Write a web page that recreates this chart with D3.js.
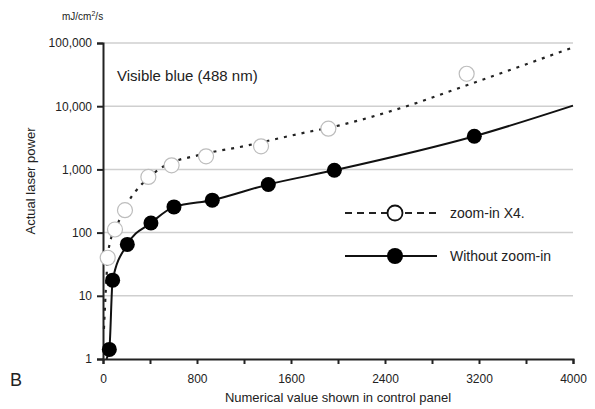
<!DOCTYPE html>
<html>
<head>
<meta charset="utf-8">
<script src="https://cdn.jsdelivr.net/npm/d3@7"></script>
<style>
  body { margin: 0; background: #fff; }
  text { font-family: Arial, "Liberation Sans", sans-serif; fill: #222; }
</style>
</head>
<body>
<script>
// data
var zoomX = [40, 102, 187, 386, 584, 877, 1345, 1918, 3095];
var zoomY = [40, 112, 226, 760, 1160, 1610, 2320, 4410, 32600];
var plainX = [54, 82, 207, 408, 604, 930, 1407, 1969, 3160];
var plainY = [1.42, 17.7, 65, 142, 255, 326, 578, 967, 3340];

// fitted curves drawn under the markers
var zoomLineX = [8, 51, 128, 213, 329, 499, 826, 1194, 1676, 2017, 2584, 3095, 4000];
var zoomLineY = [3, 59, 142, 302, 580, 1070, 1700, 2320, 3680, 5000, 10000, 21400, 85000];
var plainLineX = [30, 54, 82, 207, 408, 604, 930, 1407, 1969, 3160, 4000];
var plainLineY = [1, 1.42, 17.7, 65, 142, 255, 326, 578, 967, 3340, 10200];

var xTicks = [0, 400, 800, 1200, 1600, 2000, 2400, 2800, 3200, 3600, 4000];
var xLabels = [0, 800, 1600, 2400, 3200, 4000];
var yTicks = [1, 10, 100, 1000, 10000, 100000];

var width = 595, height = 409;

var svg = d3.select("body").append("svg")
  .attr("width", width)
  .attr("height", height);

var x = d3.scaleLinear().domain([0, 4000]).range([103, 573]);
var y = d3.scaleLog().domain([1, 100000]).range([359, 43]);

// gridlines
svg.selectAll(".grid")
  .data(yTicks.slice(1))
  .enter().append("line")
  .attr("x1", x(0)).attr("x2", x(4000))
  .attr("y1", function (d) { return y(d); })
  .attr("y2", function (d) { return y(d); })
  .style("stroke", "#cfcfcf")
  .style("stroke-width", 1.5);

// y axis
var yAxis = d3.axisLeft(y)
  .tickValues(yTicks)
  .tickSize(6)
  .tickFormat(d3.format(","));
var gy = svg.append("g").attr("transform", "translate(" + x(0) + ",0)").call(yAxis);
gy.select(".domain").style("stroke", "#222").style("stroke-width", 2);
gy.selectAll(".tick line").style("stroke", "#222").style("stroke-width", 2);
gy.selectAll(".tick text").style("font-size", "12px").attr("x", -11);

// x axis
var xAxis = d3.axisBottom(x)
  .tickValues(xTicks)
  .tickSize(5)
  .tickFormat(function (d) { return xLabels.indexOf(d) >= 0 ? d : ""; });
var gx = svg.append("g").attr("transform", "translate(0," + y(1) + ")").call(xAxis);
gx.select(".domain").style("stroke", "#222").style("stroke-width", 2);
gx.selectAll(".tick line").style("stroke", "#222").style("stroke-width", 2);
gx.selectAll(".tick text").style("font-size", "12px").attr("y", 15);

// lines
var line = d3.line()
  .x(function (d) { return x(d[0]); })
  .y(function (d) { return y(d[1]); })
  .curve(d3.curveMonotoneX);

svg.append("path")
  .datum(d3.zip(zoomLineX, zoomLineY))
  .attr("d", line)
  .style("fill", "none")
  .style("stroke", "#222")
  .style("stroke-width", 2.2)
  .style("stroke-dasharray", "3,6");

svg.append("path")
  .datum(d3.zip(plainLineX, plainLineY))
  .attr("d", line)
  .style("fill", "none")
  .style("stroke", "#111")
  .style("stroke-width", 2);

// markers
svg.selectAll(".open")
  .data(d3.zip(zoomX, zoomY))
  .enter().append("circle")
  .attr("cx", function (d) { return x(d[0]); })
  .attr("cy", function (d) { return y(d[1]); })
  .attr("r", 7.5)
  .style("fill", "#fff")
  .style("stroke", "#bdbdbd")
  .style("stroke-width", 1.2);

svg.selectAll(".filled")
  .data(d3.zip(plainX, plainY))
  .enter().append("circle")
  .attr("cx", function (d) { return x(d[0]); })
  .attr("cy", function (d) { return y(d[1]); })
  .attr("r", 7.5)
  .style("fill", "#000");

// legend
var legend = svg.append("g").attr("transform", "translate(345,213)");
legend.append("line")
  .attr("x1", 0).attr("x2", 92)
  .style("stroke", "#222").style("stroke-width", 2)
  .style("stroke-dasharray", "7,5");
legend.append("circle")
  .attr("cx", 50).attr("r", 7.5)
  .style("fill", "#fff").style("stroke", "#111").style("stroke-width", 1.8);
legend.append("text")
  .attr("x", 105).attr("dy", "0.35em")
  .style("font-size", "14px")
  .text("zoom-in X4.");

var legend2 = svg.append("g").attr("transform", "translate(345,256)");
legend2.append("line")
  .attr("x1", 0).attr("x2", 92)
  .style("stroke", "#111").style("stroke-width", 2);
legend2.append("circle")
  .attr("cx", 50).attr("r", 8)
  .style("fill", "#000");
legend2.append("text")
  .attr("x", 105).attr("dy", "0.35em")
  .style("font-size", "14px")
  .text("Without zoom-in");

// texts
svg.append("text")
  .attr("x", 117).attr("y", 81)
  .style("font-size", "15px")
  .text("Visible blue (488 nm)");

var unit = svg.append("text")
  .attr("x", 62).attr("y", 20)
  .style("font-size", "10px")
  .text("mJ/cm");
unit.append("tspan").attr("dy", -4).style("font-size", "7px").text("2");
unit.append("tspan").attr("dy", 4).text("/s");

svg.append("text")
  .attr("transform", "translate(35,181) rotate(-90)")
  .attr("text-anchor", "middle")
  .style("font-size", "13px")
  .text("Actual laser power");

svg.append("text")
  .attr("x", 338).attr("y", 402)
  .attr("text-anchor", "middle")
  .style("font-size", "13px")
  .text("Numerical value shown in control panel");

svg.append("text")
  .attr("x", 10).attr("y", 386)
  .style("font-size", "18px")
  .text("B");
</script>
</body>
</html>
